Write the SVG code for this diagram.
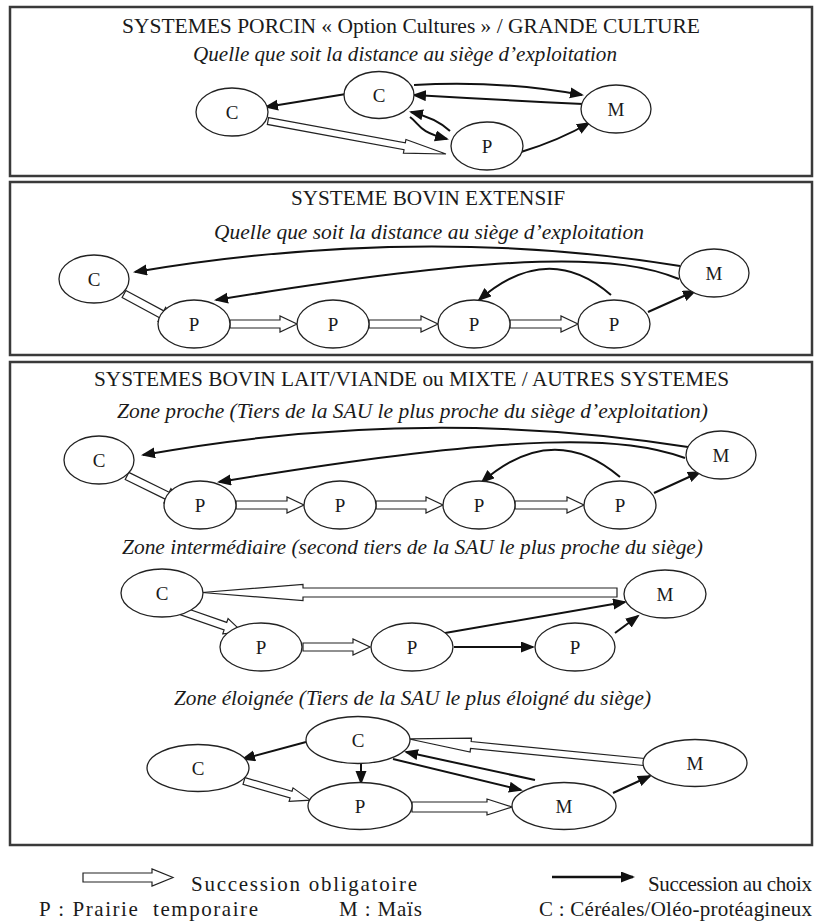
<svg xmlns="http://www.w3.org/2000/svg" width="817" height="922" viewBox="0 0 817 922">
<defs>
<marker id="ah" markerUnits="userSpaceOnUse" markerWidth="15" markerHeight="12" refX="12" refY="5.5" orient="auto">
<path d="M0,0 L14,5.5 L0,11 z" fill="#111"/>
</marker>
<style>
.panel{fill:#fff;stroke:#3a3a3a;stroke-width:2.5}
.nd{fill:#fff;stroke:#222;stroke-width:1.3}
text{font-family:'Liberation Serif','Times New Roman','DejaVu Serif',serif;fill:#1a1a1a}
.lb{font-size:19px;text-anchor:middle}
.tt{font-size:20px}
.st{font-size:20px;font-style:italic}
.lg{font-size:21px}
.ba{fill:none;stroke:#111;stroke-width:2;marker-end:url(#ah)}
.ha{fill:#fff;stroke:#222;stroke-width:1.2;stroke-linejoin:miter}
</style>
</defs>
<rect width="817" height="922" fill="#fff"/>

<g id="panels">
<rect class="panel" x="10" y="7" width="802" height="169"/>
<rect class="panel" x="10" y="182" width="802" height="173"/>
<rect class="panel" x="10" y="362" width="802" height="483"/>
</g>

<g id="titles" font-family="Liberation Serif, serif">
<text class="tt" x="122" y="33" textLength="578" lengthAdjust="spacingAndGlyphs">SYSTEMES PORCIN « Option Cultures » / GRANDE CULTURE</text>
<text class="st" x="193" y="61" textLength="424" lengthAdjust="spacingAndGlyphs">Quelle que soit la distance au siège d’exploitation</text>
<text class="tt" x="291" y="205" textLength="274" lengthAdjust="spacingAndGlyphs">SYSTEME BOVIN EXTENSIF</text>
<text class="st" x="214" y="239" textLength="430" lengthAdjust="spacingAndGlyphs">Quelle que soit la distance au siège d’exploitation</text>
<text class="tt" x="94" y="386" textLength="635" lengthAdjust="spacingAndGlyphs">SYSTEMES BOVIN LAIT/VIANDE ou MIXTE / AUTRES SYSTEMES</text>
<text class="st" x="117" y="418" textLength="591" lengthAdjust="spacingAndGlyphs">Zone proche (Tiers de la SAU le plus proche du siège d’exploitation)</text>
<text class="st" x="122" y="554" textLength="581" lengthAdjust="spacingAndGlyphs">Zone intermédiaire (second tiers de la SAU le plus proche du siège)</text>
<text class="st" x="174" y="705" textLength="477" lengthAdjust="spacingAndGlyphs">Zone éloignée (Tiers de la SAU le plus éloigné du siège)</text>
</g>

<g id="connectors">
<path class="ba" d="M346,94 L266,107"/>
<path class="ba" d="M414,85 Q500,80 582,95"/>
<path class="ba" d="M583,104 Q500,100 414,95"/>
<path class="ba" d="M410,117 C421,125 417,131 447,139"/>
<path class="ba" d="M450,131 Q436,118 411,112"/>
<path class="ba" d="M521,152 Q560,140 589,123"/>
<polygon class="ha" transform="translate(268,121) rotate(10.5)" points="0,-3.5 139,-3.5 139,-7 181,0 139,7 139,3.5 0,3.5"/>
<path class="ba" d="M680,266 Q420,224 135,272"/>
<path class="ba" d="M679,279 C620,255 520,250 216,300"/>
<path class="ba" d="M611,295 Q548,240 479,300"/>
<path class="ba" d="M648,312 L695,291"/>
<polygon class="ha" transform="translate(124,294) rotate(28.3)" points="0,-4 43,-4 43,-8 59,0 43,8 43,4 0,4"/>
<polygon class="ha" transform="translate(230,324)" points="0,-4 50,-4 50,-8 67,0 50,8 50,4 0,4"/>
<polygon class="ha" transform="translate(369,324)" points="0,-4 52,-4 52,-8 69,0 52,8 52,4 0,4"/>
<polygon class="ha" transform="translate(510,324)" points="0,-4 51,-4 51,-8 68,0 51,8 51,4 0,4"/>
<path class="ba" d="M688,447 Q420,405 143,455"/>
<path class="ba" d="M685,458 C625,437 530,430 219,482"/>
<path class="ba" d="M620,477 Q553,420 482,482"/>
<path class="ba" d="M654,493 L700,472"/>
<polygon class="ha" transform="translate(127,476) rotate(26.1)" points="0,-4 45,-4 45,-8 61,0 45,8 45,4 0,4"/>
<polygon class="ha" transform="translate(236,505)" points="0,-4 51,-4 51,-8 68,0 51,8 51,4 0,4"/>
<polygon class="ha" transform="translate(376,505)" points="0,-4 50,-4 50,-8 67,0 50,8 50,4 0,4"/>
<polygon class="ha" transform="translate(515,505)" points="0,-4 52,-4 52,-8 69,0 52,8 52,4 0,4"/>
<polygon class="ha" transform="translate(617,592.5) rotate(180)" points="0,-4.5 314,-4.5 314,-8 415,0 314,8 314,4.5 0,4.5"/>
<polygon class="ha" transform="translate(182,611) rotate(19.3)" points="0,-4 46,-4 46,-8 64,0 46,8 46,4 0,4"/>
<polygon class="ha" transform="translate(303,647)" points="0,-4 50,-4 50,-8 67,0 50,8 50,4 0,4"/>
<path class="ba" d="M445,633 L625,602"/>
<path class="ba" d="M454,647 L533,647"/>
<path class="ba" d="M615,633 L638,616"/>
<polygon class="ha" transform="translate(644,762) rotate(185.6)" points="0,-3.5 174,-3.5 174,-7 236,0 174,7 174,3.5 0,3.5"/>
<polygon class="ha" transform="translate(244,781) rotate(16.1)" points="0,-3.5 49,-3.5 49,-7 69,0 49,7 49,3.5 0,3.5"/>
<polygon class="ha" transform="translate(412,807)" points="0,-5 75,-5 75,-8 100,0 75,8 75,5 0,5"/>
<path class="ba" d="M306,742 L243,759"/>
<path class="ba" d="M361,763 L361,783"/>
<path class="ba" d="M393,759 L521,790"/>
<path class="ba" d="M535,780 L406,752"/>
<path class="ba" d="M613,793 L650,776"/>
</g>

<g id="nodes" font-family="Liberation Serif, serif">
<g id="p1-C1"><ellipse class="nd" cx="232" cy="112" rx="36" ry="24"/><text class="lb" x="232" y="118.5">C</text></g>
<g id="p1-C2"><ellipse class="nd" cx="379" cy="95" rx="35" ry="23.5"/><text class="lb" x="379" y="101.5">C</text></g>
<g id="p1-M"><ellipse class="nd" cx="616" cy="109" rx="35" ry="24"/><text class="lb" x="616" y="115.5">M</text></g>
<g id="p1-P"><ellipse class="nd" cx="487" cy="146" rx="36" ry="24"/><text class="lb" x="487" y="152.5">P</text></g>

<g id="p2-C"><ellipse class="nd" cx="94" cy="279" rx="35" ry="24"/><text class="lb" x="94" y="285.5">C</text></g>
<g id="p2-P1"><ellipse class="nd" cx="194" cy="324" rx="36" ry="24"/><text class="lb" x="194" y="330.5">P</text></g>
<g id="p2-P2"><ellipse class="nd" cx="333" cy="324" rx="36" ry="24"/><text class="lb" x="333" y="330.5">P</text></g>
<g id="p2-P3"><ellipse class="nd" cx="474" cy="324" rx="36" ry="24"/><text class="lb" x="474" y="330.5">P</text></g>
<g id="p2-P4"><ellipse class="nd" cx="614" cy="324" rx="36" ry="24"/><text class="lb" x="614" y="330.5">P</text></g>
<g id="p2-M"><ellipse class="nd" cx="714" cy="273" rx="35" ry="24"/><text class="lb" x="714" y="279.5">M</text></g>

<g id="zp-C"><ellipse class="nd" cx="99" cy="460" rx="35" ry="24"/><text class="lb" x="99" y="466.5">C</text></g>
<g id="zp-P1"><ellipse class="nd" cx="200" cy="505" rx="36" ry="24"/><text class="lb" x="200" y="511.5">P</text></g>
<g id="zp-P2"><ellipse class="nd" cx="340" cy="505" rx="36" ry="24"/><text class="lb" x="340" y="511.5">P</text></g>
<g id="zp-P3"><ellipse class="nd" cx="479" cy="505" rx="36" ry="24"/><text class="lb" x="479" y="511.5">P</text></g>
<g id="zp-P4"><ellipse class="nd" cx="620" cy="505" rx="36" ry="24"/><text class="lb" x="620" y="511.5">P</text></g>
<g id="zp-M"><ellipse class="nd" cx="721" cy="455" rx="35" ry="24"/><text class="lb" x="721" y="461.5">M</text></g>

<g id="zi-C"><ellipse class="nd" cx="162" cy="593" rx="41" ry="24"/><text class="lb" x="162" y="599.5">C</text></g>
<g id="zi-P1"><ellipse class="nd" cx="261" cy="647" rx="41" ry="24"/><text class="lb" x="261" y="653.5">P</text></g>
<g id="zi-P2"><ellipse class="nd" cx="412" cy="647" rx="41" ry="24"/><text class="lb" x="412" y="653.5">P</text></g>
<g id="zi-P3"><ellipse class="nd" cx="575" cy="647" rx="40" ry="24"/><text class="lb" x="575" y="653.5">P</text></g>
<g id="zi-M"><ellipse class="nd" cx="665" cy="594" rx="41" ry="24"/><text class="lb" x="665" y="600.5">M</text></g>

<g id="ze-C1"><ellipse class="nd" cx="358" cy="740" rx="52" ry="23.5"/><text class="lb" x="358" y="746.5">C</text></g>
<g id="ze-C2"><ellipse class="nd" cx="198" cy="768" rx="51" ry="23.5"/><text class="lb" x="198" y="774.5">C</text></g>
<g id="ze-P"><ellipse class="nd" cx="360" cy="806" rx="52" ry="23.5"/><text class="lb" x="360" y="812.5">P</text></g>
<g id="ze-M1"><ellipse class="nd" cx="564" cy="806" rx="52" ry="23.5"/><text class="lb" x="564" y="812.5">M</text></g>
<g id="ze-M2"><ellipse class="nd" cx="695" cy="763" rx="52" ry="23.5"/><text class="lb" x="695" y="769.5">M</text></g>
</g>

<g id="legend" font-family="Liberation Serif, serif">
<polygon class="ha" transform="translate(83,877.5)" points="0,-4.5 69,-4.5 69,-8.5 90,0 69,8.5 69,4.5 0,4.5"/>
<text class="lg" x="191" y="891" textLength="226" lengthAdjust="spacing">Succession obligatoire</text>
<path class="ba" d="M552,877 L633,877" style="stroke-width:2.5"/>
<text class="lg" x="648" y="891" textLength="164" lengthAdjust="spacing">Succession au choix</text>
<text class="lg" x="39" y="916" xml:space="preserve" textLength="219" lengthAdjust="spacing">P : Prairie  temporaire</text>
<text class="lg" x="339" y="916" textLength="83" lengthAdjust="spacing">M : Maïs</text>
<text class="lg" x="539" y="916" textLength="273" lengthAdjust="spacing">C : Céréales/Oléo-protéagineux</text>
</g>
</svg>
